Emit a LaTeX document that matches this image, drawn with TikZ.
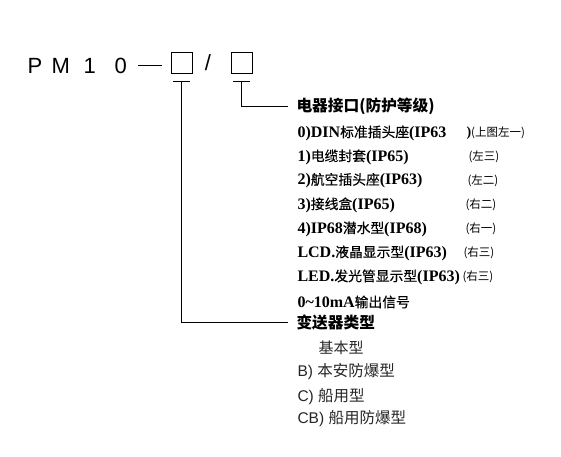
\documentclass[tikz,border=0pt]{standalone}
\usepackage{fontspec}
\setmainfont{Liberation Serif}
\setsansfont{Liberation Sans}
\newfontfamily\cjk{Noto Sans CJK SC}
\newfontfamily\cjkm[FakeBold=0.4]{Noto Sans CJK SC}
\newcommand\zh[1]{{\cjkm\mdseries\fontsize{13.8}{15}\selectfont #1}}
\newcommand\zhs[1]{{\cjk\mdseries\fontsize{11.5}{12}\selectfont #1}}
\begin{document}
\begin{tikzpicture}[x=1pt,y=-1pt,line width=1pt,
  big/.style={inner sep=0pt,font=\sffamily\fontsize{22}{24}\selectfont},
  box/.style={draw,minimum size=21pt,inner sep=0pt},
  item/.style={anchor=west,inner sep=0pt,font=\rmfamily\bfseries\fontsize{16}{17}\selectfont},
  note/.style={anchor=west,inner sep=0pt,font=\rmfamily\fontsize{11.5}{12}\selectfont},
  head/.style={anchor=west,inner sep=0pt,font=\cjk\bfseries\fontsize{15.7}{17}\selectfont},
  typ/.style={anchor=west,inner sep=0pt,text=black!85,font=\sffamily\fontsize{15.5}{17}\selectfont},
  typzh/.style={font=\cjk\fontsize{15}{17}\selectfont}]
\useasboundingbox (0,0) rectangle (561,456);
% model code
\node[big,anchor=base west] (p) at (27,73) {P};
\node[big,anchor=base west] (m) at (51,73) {M};
\node[big,anchor=base west] (one) at (83,73) {1};
\node[big,anchor=base west] (zero) at (114,73) {0};
\coordinate (d1) at (138,65);
\coordinate (d2) at (162,65);
\draw (d1) -- (d2);
\node[box] (b1) at (181.5,63) {};
\node[big] (sl) at (208,63) {/};
\node[box] (b2) at (241.5,63) {};
% T bars
\coordinate (t1) at (181.5,81);
\coordinate (t2) at (241.5,81);
\draw ([xshift=-8.5pt]t1) -- ([xshift=8.5pt]t1);
\draw ([xshift=-8.5pt]t2) -- ([xshift=8.5pt]t2);
% headings
\node[head] (h1) at (296,106.5) {电器接口(防护等级)};
\node[head] (h2) at (296,322.5) {变送器类型};
\draw (t2) |- ([xshift=-8pt]h1.west);
\draw (t1) |- ([xshift=-8pt]h2.west);
% interface items
\node[item] (i0) at (297,133) {0)DIN\zh{标准插头座}(IP63};
\node[note] (a0) at (466,133) {{\bfseries\fontsize{14}{16}\selectfont )}\zhs{(上图左一)}};
\node[item] (i1) at (297,157) {1)\zh{电缆封套}(IP65)};
\node[note] (a1) at (468,157) {\zhs{(左三)}};
\node[item] (i2) at (297,180.5) {2)\zh{航空插头座}(IP63)};
\node[note] (a2) at (467,180.5) {\zhs{(左二)}};
\node[item] (i3) at (297,205) {3)\zh{接线盒}(IP65)};
\node[note] (a3) at (465,205) {\zhs{(右二)}};
\node[item] (i4) at (297,229) {4)IP68\zh{潜水型}(IP68)};
\node[note] (a4) at (465,229) {\zhs{(右一)}};
\node[item] (i5) at (297,253) {LCD.\zh{液晶显示型}(IP63)};
\node[note] (a5) at (463,253) {\zhs{(右三)}};
\node[item] (i6) at (297,277) {LED.\zh{发光管显示型}(IP63)};
\node[note] (a6) at (462,277) {\zhs{(右三)}};
\node[item] (i7) at (297,302) {0\textasciitilde10mA\zh{输出信号}};
% type items
\node[typ,typzh] (k0) at (318,348) {基本型};
\node[typ] (k1) at (297,372) {B) {\cjk 本安防爆型}};
\node[typ] (k2) at (297,396.5) {C) {\cjk 船用型}};
\node[typ] (k3) at (297,419) {CB) {\cjk 船用防爆型}};
\end{tikzpicture}
\end{document}
